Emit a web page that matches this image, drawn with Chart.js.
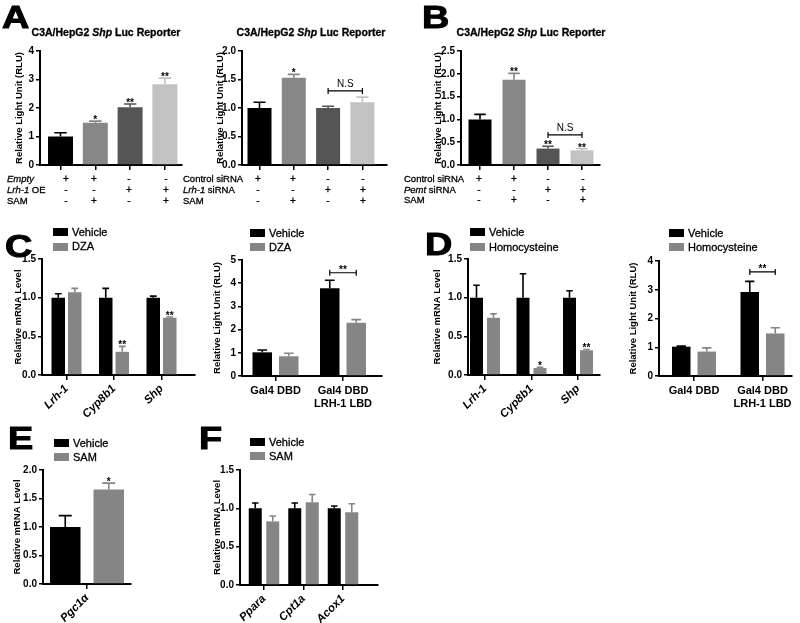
<!DOCTYPE html>
<html><head><meta charset="utf-8">
<script src="https://cdn.jsdelivr.net/npm/chart.js@4/dist/chart.umd.min.js"></script>
<style>
body{margin:0;width:800px;height:623px;background:#fff;position:relative;overflow:hidden;font-family:'Liberation Sans',Arial,sans-serif;color:#000}
.t{position:absolute;white-space:nowrap;line-height:1;color:#000;filter:grayscale(1);-webkit-text-stroke:0.3px #000}
.L{position:absolute;white-space:nowrap;line-height:1;color:#000;font-weight:bold;transform-origin:0 0;transform:scaleX(1.22);-webkit-text-stroke:1px #000}
.box{position:absolute;width:15px;height:8px}
.cw{position:absolute}
</style></head><body>
<script>
// ---------------- DATA ----------------
// Panel A (left): Lrh-1 overexpression + SAM
const a1Conditions = ['Empty', 'Empty + SAM', 'Lrh-1 OE', 'Lrh-1 OE + SAM'];
const a1Values = [1.0, 1.48, 2.03, 2.83];
const a1Errors = [0.13, 0.06, 0.11, 0.22];
const a1Sig = ['', '*', '**', '**'];
const a1RowLabels = ['<i>Empty</i>', '<i>Lrh-1</i> OE', 'SAM'];
const a1Signs = [['+', '+', '-', '-'], ['-', '-', '+', '+'], ['-', '+', '-', '+']];

// Panel A (right): Lrh-1 siRNA + SAM
const a2Conditions = ['Control siRNA', 'Control siRNA + SAM', 'Lrh-1 siRNA', 'Lrh-1 siRNA + SAM'];
const a2Values = [1.0, 1.53, 1.0, 1.1];
const a2Errors = [0.1, 0.06, 0.03, 0.09];
const a2Sig = ['', '*', '', ''];
const a2RowLabels = ['Control siRNA', '<i>Lrh-1</i> siRNA', 'SAM'];
const a2Signs = [['+', '+', '-', '-'], ['-', '-', '+', '+'], ['-', '+', '-', '+']];

// Panel B: Pemt siRNA + SAM
const bConditions = ['Control siRNA', 'Control siRNA + SAM', 'Pemt siRNA', 'Pemt siRNA + SAM'];
const bValues = [1.0, 1.87, 0.36, 0.32];
const bErrors = [0.11, 0.14, 0.05, 0.04];
const bSig = ['', '**', '**', '**'];
const bRowLabels = ['Control siRNA', '<i>Pemt</i> siRNA', 'SAM'];
const bSigns = [['+', '+', '-', '-'], ['-', '-', '+', '+'], ['-', '+', '-', '+']];

// Panel C: DZA
const cGenes = ['Lrh-1', 'Cyp8b1', 'Shp'];
const c1Vehicle = [1.0, 1.0, 1.0];
const c1VehicleErr = [0.05, 0.12, 0.02];
const c1Dza = [1.07, 0.3, 0.74];
const c1DzaErr = [0.05, 0.07, 0.01];
const c1DzaSig = ['', '**', '**'];
const cConstructs = [['Gal4 DBD'], ['Gal4 DBD', 'LRH-1 LBD']];
const c2Vehicle = [1.02, 3.78];
const c2VehicleErr = [0.1, 0.35];
const c2Dza = [0.85, 2.3];
const c2DzaErr = [0.13, 0.13];

// Panel D: Homocysteine
const d1Vehicle = [1.0, 1.0, 1.0];
const d1VehicleErr = [0.16, 0.31, 0.09];
const d1Hcy = [0.74, 0.09, 0.32];
const d1HcyErr = [0.05, 0.01, 0.01];
const d1HcySig = ['', '*', '**'];
const d2Vehicle = [1.02, 2.92];
const d2VehicleErr = [0.02, 0.37];
const d2Hcy = [0.85, 1.48];
const d2HcyErr = [0.13, 0.2];

// Panel E: Pgc1a
const eGenes = ['Pgc1α'];
const eVehicle = [1.0];
const eVehicleErr = [0.2];
const eSam = [1.66];
const eSamErr = [0.11];
const eSamSig = ['*'];

// Panel F
const fGenes = ['Ppara', 'Cpt1a', 'Acox1'];
const fVehicle = [1.0, 1.0, 1.0];
const fVehicleErr = [0.07, 0.07, 0.03];
const fSam = [0.83, 1.08, 0.95];
const fSamErr = [0.07, 0.1, 0.11];

// ---------------- STYLE / LAYOUT ----------------
const LS = "'Liberation Sans', Arial, sans-serif";
const BLACK = '#000000', GREY = '#858585';
const A_COLORS = ['#000000', '#878787', '#555555', '#c2c2c2'];
Chart.defaults.font.family = LS;
Chart.defaults.color = '#000';

function addText(html, x, y, size, o = {}) {
  const d = document.createElement('div');
  d.className = 't';
  d.innerHTML = html;
  d.style.fontSize = size + 'px';
  d.style.top = Math.round(y - size / 2) + 'px';
  if (o.bold) d.style.fontWeight = 'bold';
  if (o.center) {
    const w = o.w || 20;
    d.style.width = w + 'px';
    d.style.textAlign = 'center';
    d.style.left = Math.round(x - w / 2) + 'px';
  } else {
    d.style.left = x + 'px';
  }
  document.body.appendChild(d);
}
function letter(ch, x, capTop) {
  const s = 31;
  const d = document.createElement('div');
  d.className = 'L';
  d.textContent = ch;
  d.style.left = x + 'px';
  d.style.top = Math.round(capTop - 0.13 * s) + 'px';
  d.style.fontSize = s + 'px';
  document.body.appendChild(d);
}
function legend(x, y1, y2, labels, colors) {
  [y1, y2].forEach((y, i) => {
    const b = document.createElement('div');
    b.className = 'box';
    b.style.left = x + 'px';
    b.style.top = Math.round(y - 4) + 'px';
    b.style.background = colors[i];
    document.body.appendChild(b);
    addText(labels[i], x + 19, y, 11);
  });
}
function table(labelX, colXs, rowYs, labels, signs) {
  labels.forEach((lab, r) => {
    addText(lab, labelX, rowYs[r], 9.5);
    signs[r].forEach((s, c) => addText(s, colXs[c], rowYs[r], 10, { center: true }));
  });
}

const annot = {
  id: 'annot',
  afterDatasetsDraw(chart, args, opts) {
    const ctx = chart.ctx, ys = chart.scales.y;
    ctx.save();
    chart.data.datasets.forEach((ds, di) => {
      const meta = chart.getDatasetMeta(di);
      meta.data.forEach((bar, i) => {
        const col = Array.isArray(ds.backgroundColor) ? ds.backgroundColor[i] : ds.backgroundColor;
        const err = ds.errors ? ds.errors[i] : 0;
        const topY = ys.getPixelForValue(ds.data[i] + err);
        const half = Math.min(bar.width * 0.25, 6.5);
        ctx.strokeStyle = col;
        ctx.lineWidth = 1.6;
        ctx.beginPath();
        ctx.moveTo(bar.x, bar.y);
        ctx.lineTo(bar.x, topY);
        ctx.moveTo(bar.x - half, topY);
        ctx.lineTo(bar.x + half, topY);
        ctx.stroke();
        const s = ds.sig && ds.sig[i];
        if (s) {
          ctx.fillStyle = '#000';
          ctx.font = 'bold 10px ' + LS;
          ctx.textAlign = 'center';
          ctx.textBaseline = 'alphabetic';
          ctx.fillText(s, bar.x, topY + 2);
        }
      });
    });
    (opts.brackets || []).forEach(br => {
      const x1 = chart.getDatasetMeta(br.from[0]).data[br.from[1]].x;
      const x2 = chart.getDatasetMeta(br.to[0]).data[br.to[1]].x;
      const y = ys.getPixelForValue(br.value);
      ctx.strokeStyle = '#000';
      ctx.lineWidth = 1.2;
      ctx.beginPath();
      ctx.moveTo(x1, y); ctx.lineTo(x2, y);
      ctx.moveTo(x1, y - 3); ctx.lineTo(x1, y + 3);
      ctx.moveTo(x2, y - 3); ctx.lineTo(x2, y + 3);
      ctx.stroke();
      ctx.fillStyle = '#000';
      ctx.textAlign = 'center';
      ctx.textBaseline = 'alphabetic';
      if (br.text === 'N.S') {
        ctx.font = '10px ' + LS;
        ctx.fillText(br.text, (x1 + x2) / 2, y - 3.5);
      } else {
        ctx.font = 'bold 10px ' + LS;
        ctx.fillText(br.text, (x1 + x2) / 2, y + 0.5);
      }
    });
    ctx.restore();
  }
};

function barChart(L, labels, datasets, y, xTicks, brackets) {
  const padT = 6, padR = 6;
  const W = Math.round(L.right - L.axisX + L.yw + padR);
  const H = Math.round(L.bottom - L.top + padT + L.xh);
  const div = document.createElement('div');
  div.className = 'cw';
  div.style.left = (L.axisX - L.yw) + 'px';
  div.style.top = (L.top - padT) + 'px';
  div.style.width = W + 'px';
  div.style.height = H + 'px';
  const cv = document.createElement('canvas');
  cv.width = W; cv.height = H;
  div.appendChild(cv);
  document.body.appendChild(div);
  const n = labels.length;
  const padL = (L.first - L.axisX) / L.spacing;
  const padRc = (L.right - (L.first + (n - 1) * L.spacing)) / L.spacing;
  const grouped = datasets.length > 1;
  const catPct = grouped ? 2 * (L.w + L.g) / L.spacing : L.w / L.spacing;
  const barPct = grouped ? L.w / (L.w + L.g) : 1;
  datasets.forEach(d => { d.categoryPercentage = catPct; d.barPercentage = barPct; d.borderWidth = 0; });
  new Chart(cv, {
    type: 'bar',
    data: { labels, datasets },
    plugins: [annot],
    options: {
      responsive: false, animation: false,
      layout: { padding: { top: padT, right: padR, left: 0, bottom: 0 } },
      plugins: { legend: { display: false }, tooltip: { enabled: false }, annot: { brackets: brackets || [] } },
      scales: {
        x: {
          afterFit: s => { s.height = L.xh; },
          afterBuildTicks: s => { s._startValue = -padL; s._valueRange = (n - 1) + padL + padRc; },
          border: { color: '#000', width: 2 },
          grid: { display: true, drawOnChartArea: false, drawTicks: true, tickLength: 5, offset: false, color: '#000', lineWidth: 1.5 },
          ticks: xTicks
        },
        y: {
          min: 0, max: y.max,
          afterFit: s => { s.width = L.yw; },
          border: { color: '#000', width: 2 },
          grid: { drawOnChartArea: false, drawTicks: true, tickLength: 4, color: '#000', lineWidth: 1.5 },
          ticks: { stepSize: y.step, padding: 2, font: { size: 10, weight: 'bold' }, callback: v => Number(v).toFixed(y.dec) },
          title: { display: true, text: y.title, font: { size: 9.5, weight: 'bold' }, padding: { top: L.titlePad, bottom: 0 } }
        }
      }
    }
  });
}

const noTicks = { display: false };
const rotTicks = { minRotation: 45, maxRotation: 45, autoSkip: false, padding: 2, font: { size: 11.5, weight: 'bold', style: 'italic' } };
const flatTicks = { minRotation: 0, maxRotation: 0, autoSkip: false, padding: 3, font: { size: 11, weight: 'bold' } };
const RLU = 'Relative Light Unit (RLU)', MRNA = 'Relative mRNA Level';

// ---- Panel A ----
letter('A', 2, 6);
addText('C3A/HepG2 <i>Shp</i> Luc Reporter', 105.5, 32, 10.5, { bold: true, center: true, w: 200 });
barChart({ axisX: 40, top: 49, bottom: 166, right: 182, first: 60.5, spacing: 34.8, w: 25, yw: 40, xh: 7, titlePad: 14 },
  a1Conditions, [{ data: a1Values, errors: a1Errors, sig: a1Sig, backgroundColor: A_COLORS }],
  { max: 4, step: 1, dec: 0, title: RLU }, noTicks);
table(7, [66, 94, 129, 166], [179, 190, 201], a1RowLabels, a1Signs);

addText('C3A/HepG2 <i>Shp</i> Luc Reporter', 311, 32, 10.5, { bold: true, center: true, w: 200 });
barChart({ axisX: 242, top: 49, bottom: 166, right: 387, first: 259.5, spacing: 34.3, w: 24, yw: 40, xh: 7, titlePad: 12.3 },
  a2Conditions, [{ data: a2Values, errors: a2Errors, sig: a2Sig, backgroundColor: A_COLORS }],
  { max: 2, step: 0.5, dec: 1, title: RLU }, noTicks,
  [{ from: [0, 2], to: [0, 3], value: 1.3, text: 'N.S' }]);
table(183, [258, 293, 328, 363], [179, 190, 201], a2RowLabels, a2Signs);

// ---- Panel B ----
letter('B', 422, 6);
addText('C3A/HepG2 <i>Shp</i> Luc Reporter', 531, 32, 10.5, { bold: true, center: true, w: 200 });
barChart({ axisX: 461, top: 49, bottom: 166, right: 600, first: 480, spacing: 34, w: 23, yw: 40, xh: 7, titlePad: 11.3 },
  bConditions, [{ data: bValues, errors: bErrors, sig: bSig, backgroundColor: A_COLORS }],
  { max: 2.5, step: 0.5, dec: 1, title: RLU }, noTicks,
  [{ from: [0, 2], to: [0, 3], value: 0.66, text: 'N.S' }]);
table(404, [479, 514, 548, 583], [179, 189.5, 200], bRowLabels, bSigns);

// ---- Panel C ----
letter('C', 5, 235);
legend(53, 232, 246.5, ['Vehicle', 'DZA'], [BLACK, GREY]);
barChart({ axisX: 42, top: 257, bottom: 375, right: 195, first: 66.5, spacing: 47.5, w: 13.5, g: 3, yw: 40, xh: 50, titlePad: 10.3 },
  cGenes, [
    { label: 'Vehicle', data: c1Vehicle, errors: c1VehicleErr, backgroundColor: BLACK },
    { label: 'DZA', data: c1Dza, errors: c1DzaErr, sig: c1DzaSig, backgroundColor: GREY }],
  { max: 1.5, step: 0.5, dec: 1, title: MRNA }, rotTicks);

legend(250, 233, 247, ['Vehicle', 'DZA'], [BLACK, GREY]);
barChart({ axisX: 242, top: 258, bottom: 376, right: 382, first: 275.5, spacing: 67.5, w: 19.5, g: 7, yw: 40, xh: 34, titlePad: 9.3 },
  cConstructs, [
    { label: 'Vehicle', data: c2Vehicle, errors: c2VehicleErr, backgroundColor: BLACK },
    { label: 'DZA', data: c2Dza, errors: c2DzaErr, backgroundColor: GREY }],
  { max: 5, step: 1, dec: 0, title: RLU }, flatTicks,
  [{ from: [0, 1], to: [1, 1], value: 4.45, text: '**' }]);

// ---- Panel D ----
letter('D', 425, 233);
legend(470, 232, 247, ['Vehicle', 'Homocysteine'], [BLACK, GREY]);
barChart({ axisX: 468, top: 257, bottom: 375, right: 600, first: 485, spacing: 46.5, w: 13, g: 4, yw: 40, xh: 50, titlePad: 3.3 },
  cGenes, [
    { label: 'Vehicle', data: d1Vehicle, errors: d1VehicleErr, backgroundColor: BLACK },
    { label: 'Homocysteine', data: d1Hcy, errors: d1HcyErr, sig: d1HcySig, backgroundColor: GREY }],
  { max: 1.5, step: 0.5, dec: 1, title: MRNA }, rotTicks);

legend(669, 233, 247, ['Vehicle', 'Homocysteine'], [BLACK, GREY]);
barChart({ axisX: 659, top: 259, bottom: 376, right: 792, first: 694, spacing: 68.5, w: 18.5, g: 7, yw: 40, xh: 34, titlePad: 8.3 },
  cConstructs, [
    { label: 'Vehicle', data: d2Vehicle, errors: d2VehicleErr, backgroundColor: BLACK },
    { label: 'Homocysteine', data: d2Hcy, errors: d2HcyErr, backgroundColor: GREY }],
  { max: 4, step: 1, dec: 0, title: RLU }, flatTicks,
  [{ from: [0, 1], to: [1, 1], value: 3.62, text: '**' }]);

// ---- Panel E ----
letter('E', 8, 427);
legend(54, 443, 457, ['Vehicle', 'SAM'], [BLACK, GREY]);
barChart({ axisX: 43, top: 468, bottom: 584, right: 131, first: 87, spacing: 88, w: 30.5, g: 13, yw: 40, xh: 39, titlePad: 8.8 },
  eGenes, [
    { label: 'Vehicle', data: eVehicle, errors: eVehicleErr, backgroundColor: BLACK },
    { label: 'SAM', data: eSam, errors: eSamErr, sig: eSamSig, backgroundColor: GREY }],
  { max: 2, step: 0.5, dec: 1, title: MRNA }, rotTicks);

// ---- Panel F ----
letter('F', 199, 427);
legend(250, 442, 456, ['Vehicle', 'SAM'], [BLACK, GREY]);
barChart({ axisX: 240, top: 468, bottom: 585, right: 378, first: 264, spacing: 39.5, w: 13, g: 4.5, yw: 40, xh: 38, titlePad: 11.3 },
  fGenes, [
    { label: 'Vehicle', data: fVehicle, errors: fVehicleErr, backgroundColor: BLACK },
    { label: 'SAM', data: fSam, errors: fSamErr, backgroundColor: GREY }],
  { max: 1.5, step: 0.5, dec: 1, title: MRNA }, rotTicks);
</script>
</body></html>
